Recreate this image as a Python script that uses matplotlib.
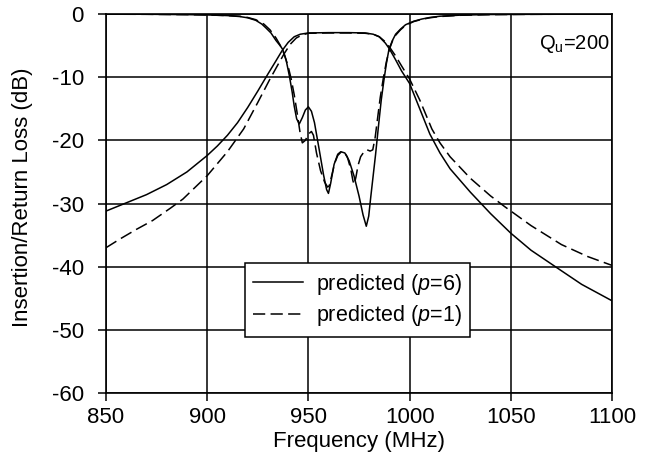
import matplotlib
matplotlib.use('Agg')
import matplotlib.pyplot as plt

plt.rcParams['font.family'] = ['Liberation Sans', 'DejaVu Sans']
plt.rcParams['mathtext.fontset'] = 'custom'
plt.rcParams['mathtext.rm'] = 'Liberation Sans'
plt.rcParams['mathtext.it'] = 'Liberation Sans:italic'
plt.rcParams['axes.unicode_minus'] = False

# Insertion loss (S21), p=6 -- solid
f21_p6 = [850, 860, 870, 880, 890, 900, 905, 910, 915, 920, 925, 930, 934, 937, 940, 943,
          946, 950, 960, 970, 978, 982, 985, 988, 990, 993, 996, 1000, 1005, 1010, 1015,
          1020, 1030, 1040, 1050, 1060, 1072, 1085, 1100]
s21_p6 = [-31.2, -29.9, -28.6, -27.0, -25.0, -22.4, -20.9, -19.2, -17.2, -14.8, -12.2,
          -9.5, -7.4, -5.8, -4.5, -3.6, -3.2, -3.0, -2.95, -2.95, -3.0, -3.2, -3.6, -4.6,
          -5.5, -7.2, -9.0, -11.0, -15.0, -19.0, -22.0, -24.5, -28.2, -31.6, -34.7, -37.4,
          -40.0, -42.8, -45.4]

# Insertion loss (S21), p=1 -- dashed
f21_p1 = [850, 857, 865, 873, 882, 888, 900, 910, 918, 925, 931, 935, 938, 941, 944, 947,
          950, 960, 970, 978, 982, 985, 988, 990, 993, 996, 1000, 1005, 1011, 1015, 1020,
          1030, 1040, 1047, 1060, 1075, 1088, 1100]
s21_p1 = [-37.0, -35.6, -34.1, -32.7, -30.7, -29.3, -25.6, -21.8, -18.2, -14.0, -10.3, -8.0,
          -6.3, -4.8, -3.8, -3.3, -3.05, -3.0, -3.0, -3.05, -3.2, -3.6, -4.4, -5.2, -6.6,
          -8.2, -10.3, -13.6, -18.2, -20.4, -22.6, -26.0, -28.8, -30.5, -33.5, -36.5,
          -38.4, -39.8]

# Return loss (S11), p=6 -- solid
f11_p6 = [850, 870, 890, 900, 910, 916, 920, 924, 927, 929, 931.5, 934, 936, 937.3, 939,
          940.6, 942, 943, 944.2, 945.5, 947, 948.5, 950, 951.5, 953, 955.3, 957.5, 959,
          959.9, 961, 962.7, 964.5, 966, 968, 970.1, 972.5, 975, 977, 978.6, 979.8, 980.8,
          982, 983.2, 984.8, 986, 987.3, 988.5, 989.8, 991.5, 993.1, 995.5, 998, 1002,
          1006, 1010, 1015, 1025, 1040, 1060, 1080, 1100]
s11_p6 = [-0.02, -0.04, -0.1, -0.15, -0.25, -0.4, -0.6, -1.0, -1.6, -2.2, -3.0, -4.2, -5.0,
          -5.6, -7.3, -9.8, -12.4, -14.6, -16.6, -17.4, -16.4, -15.2, -14.7, -15.4, -17.2,
          -21.4, -25.5, -27.8, -28.4, -26.8, -23.8, -22.2, -21.8, -22.0, -23.2, -25.6,
          -28.8, -31.8, -33.6, -32.0, -29.0, -25.6, -22.2, -17.2, -13.6, -10.5, -7.9,
          -5.6, -4.2, -3.2, -2.4, -1.7, -1.15, -0.8, -0.55, -0.35, -0.18, -0.08, -0.05,
          -0.03, -0.02]

# Return loss (S11), p=1 -- dashed
f11_p1 = [850, 870, 890, 900, 910, 916, 920, 924, 928, 931, 934, 936, 938, 940, 941.5, 943,
          944.5, 945.8, 947, 948.5, 950, 951.5, 952.5, 954, 956, 958, 959.5, 960.3, 961.5,
          963, 964.5, 966, 967.6, 969.2, 970.9, 972, 972.6, 973.5, 974.5, 975.8, 977.5,
          979, 980.5, 981.8, 983, 984.3, 985.5, 987, 988.5, 990, 991.5, 993, 995.5, 998,
          1002, 1006, 1010, 1015, 1025, 1040, 1060, 1080, 1100]
s11_p1 = [-0.03, -0.05, -0.1, -0.15, -0.25, -0.35, -0.55, -0.9, -1.6, -2.5, -3.8, -4.9,
          -6.3, -8.3, -10.3, -12.8, -15.8, -18.6, -20.4, -20.0, -19.0, -18.6, -19.2, -22.0,
          -24.8, -26.6, -27.4, -27.2, -25.6, -23.6, -22.4, -21.9, -21.8, -22.6, -24.5,
          -26.4, -27.0, -25.8, -24.0, -22.6, -21.8, -21.5, -21.7, -21.5, -19.5, -16.2,
          -13.2, -10.2, -7.6, -5.6, -4.3, -3.4, -2.5, -1.8, -1.2, -0.85, -0.6, -0.4, -0.2,
          -0.1, -0.05, -0.03, -0.02]

x_ticks = [850, 900, 950, 1000, 1050, 1100]
y_ticks = [0, -10, -20, -30, -40, -50, -60]

fig = plt.figure(figsize=(6.5, 4.55), dpi=100)
# plot area: x 106..612 px, y 14..393 px
ax = fig.add_axes([106 / 650, 1 - 393 / 455, 506 / 650, 379 / 455])

dash = (0, (8, 3.5))
ax.plot(f21_p6, s21_p6, color='black', lw=1.1, label=r'predicted ($\mathit{p}$=$\mathit{6}$)')
ax.plot(f21_p1, s21_p1, color='black', lw=1.1, ls=dash, label=r'predicted ($\mathit{p}$=1)')
ax.plot(f11_p6, s11_p6, color='black', lw=1.1)
ax.plot(f11_p1, s11_p1, color='black', lw=1.1, ls=dash)

ax.set_xlim(850, 1100)
ax.set_ylim(-60, 0)
ax.set_xticks(x_ticks)
ax.set_yticks(y_ticks)
ax.grid(True, color='black', lw=1.1)
ax.set_axisbelow(True)
for s in ax.spines.values():
    s.set_linewidth(1.2)
ax.tick_params(direction='out', length=6, width=1.1, labelsize=16, color='black')
ax.tick_params(axis='x', pad=4)
ax.tick_params(axis='y', pad=10)

ax.set_xlabel('Frequency (MHz)', fontsize=16)
ax.set_ylabel('Insertion/Return Loss (dB)', fontsize=16)
ax.xaxis.set_label_coords(0.5, -0.1)
ax.yaxis.set_label_coords(-0.145, 0.517)

ax.text(0.925, 0.92, r'Q$_\mathregular{u}$=200', transform=ax.transAxes,
        ha='center', va='center', fontsize=14.5)

leg = ax.legend(loc='center', bbox_to_anchor=(0.497, 0.245), fontsize=15.5,
                frameon=True, fancybox=False, framealpha=1, edgecolor='black',
                handlelength=2.3, handletextpad=0.6, borderpad=0.4, labelspacing=0.3)
leg.get_frame().set_linewidth(1.1)

fig.savefig('out.png', dpi=100)
